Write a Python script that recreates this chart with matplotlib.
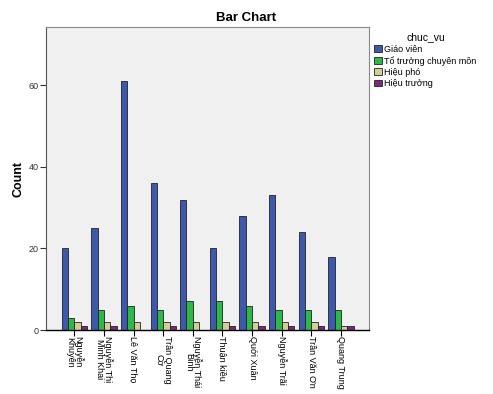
import numpy as np
import matplotlib
matplotlib.use("Agg")
import matplotlib.pyplot as plt

plt.rcParams['font.family'] = ['Liberation Sans', 'DejaVu Sans']

# truong (school) names on the x axis
schools = [
    "Nguyễn\nKhuyến", "Nguyễn Thị\nMinh Khai", "Lê Văn Thọ", "Trần Quang\nCơ",
    "Nguyễn Thái\nBình", "Thuận kiều", "Quới Xuân", "Nguyễn Trãi",
    "Trần Văn Ơn", "Quang Trung",
]

# counts per chuc_vu
giao_vien = [20, 25, 61, 36, 32, 20, 28, 33, 24, 18]
to_truong = [3, 5, 6, 5, 7, 7, 6, 5, 5, 5]
hieu_pho = [2, 2, 2, 2, 2, 2, 2, 2, 2, 1]
hieu_truong = [1, 1, 0, 1, 0, 1, 1, 1, 1, 1]

series = [giao_vien, to_truong, hieu_pho, hieu_truong]
labels = ["Giáo viên", "Tổ trưởng chuyên môn", "Hiệu phó", "Hiệu trưởng"]
colors = ["#3E58AC", "#2EB848", "#D3CE97", "#7C287D"]

fig = plt.figure(figsize=(4.93, 3.94), dpi=100)
ax = fig.add_axes([0.0933, 0.1624, 0.6552, 0.7691])
ax.set_facecolor("#F0F0F0")

x = np.arange(len(schools))
w = 0.215
for i, (vals, lab, col) in enumerate(zip(series, labels, colors)):
    ax.bar(x + (i - 1.5) * w, vals, w, color=col, edgecolor="#222222",
           linewidth=0.6, label=lab, zorder=2)

ax.set_xlim(-0.96, 9.95)
ax.set_ylim(0, 74.3)
ax.set_yticks([0, 20, 40, 60])
ax.set_xticks(x)
ax.set_xticklabels(schools, rotation=-90, ha="center", va="top",
                   fontsize=6.5, linespacing=0.85)
ax.tick_params(axis="y", labelsize=6.5, length=4, width=0.8, pad=1,
               colors="#333333")
ax.tick_params(axis="x", length=4, width=0.8, pad=0.5)

for s in ["top", "right"]:
    ax.spines[s].set_color("#888888")
    ax.spines[s].set_linewidth(0.8)
ax.spines["left"].set_color("#555555")
ax.spines["bottom"].set_color("#000000")
ax.spines["bottom"].set_linewidth(1.0)

ax.set_ylabel("Count", fontsize=9, fontweight="bold", labelpad=3)
fig.text(0.5, 0.955, "Bar Chart", ha="center", va="center",
         fontsize=9.5, fontweight="bold")

leg = ax.legend(loc="upper left", bbox_to_anchor=(1.0, 1.0), frameon=False,
                title="chuc_vu", fontsize=6.5, title_fontsize=7.5,
                handlelength=0.8, handleheight=0.8, handletextpad=0.3,
                labelspacing=0.25, borderaxespad=0.2)

fig.savefig("out.png", dpi=100)
